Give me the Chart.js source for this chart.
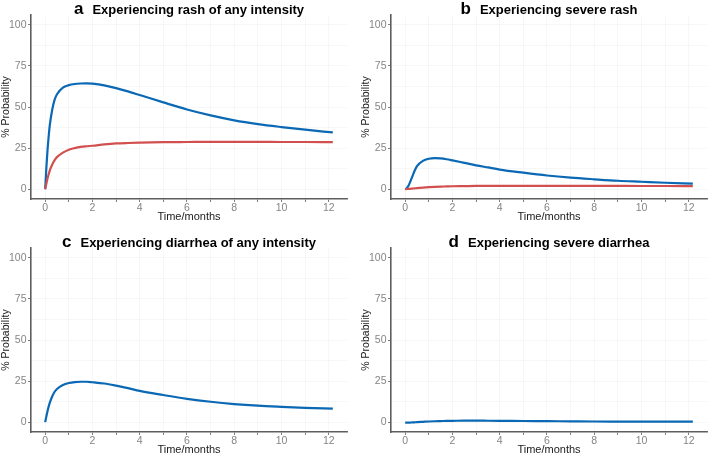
<!DOCTYPE html>
<html>
<head>
<meta charset="utf-8">
<script src="https://cdn.jsdelivr.net/npm/chart.js@4/dist/chart.umd.min.js"></script>
<style>
  html, body { margin: 0; padding: 0; background: #fff; }
  body { width: 709px; height: 455px; position: relative; overflow: hidden; }
  .panel { position: absolute; width: 349px; height: 224px; }
  #pa { left: 0; top: 0; }
  #pb { left: 360px; top: 0; }
  #pc { left: 0; top: 233px; }
  #pd { left: 360px; top: 233px; }
</style>
</head>
<body>
<div class="panel" id="pa"><canvas id="chartA" width="349" height="224"></canvas></div>
<div class="panel" id="pb"><canvas id="chartB" width="349" height="224"></canvas></div>
<div class="panel" id="pc"><canvas id="chartC" width="349" height="224"></canvas></div>
<div class="panel" id="pd"><canvas id="chartD" width="349" height="224"></canvas></div>
<script>
'use strict';

// data
const months = [0, 0.05, 0.1, 0.15, 0.2, 0.3, 0.4, 0.5, 0.75, 1, 1.25, 1.5, 1.75, 2, 2.5, 3, 3.5, 4, 5, 6, 7, 8, 9, 10, 11, 12.17];

const rashAnyBlue = [0, 13, 24, 32.5, 39.5, 48.5, 54.5, 57.8, 61.8, 63.3, 64, 64.3, 64.4, 64.2, 63.2, 61.5, 59.5, 57.3, 52.8, 48.5, 44.9, 41.9, 39.6, 37.8, 36.2, 34.5];
const rashAnyRed = [0, 3.3, 6.5, 9.2, 11.6, 15, 17.7, 19.5, 22.2, 24, 25, 25.7, 26.1, 26.4, 27.2, 27.8, 28.1, 28.3, 28.6, 28.7, 28.8, 28.8, 28.8, 28.7, 28.7, 28.6];

const rashSevereBlue = [0, 0.4, 1.2, 2.4, 4, 7.6, 11.2, 14, 17.2, 18.5, 18.9, 18.7, 18.2, 17.5, 16, 14.5, 13.2, 11.9, 10, 8.3, 7, 6, 5.1, 4.5, 3.9, 3.4];
const rashSevereRed = [0, 0.05, 0.1, 0.15, 0.2, 0.35, 0.5, 0.65, 0.95, 1.2, 1.4, 1.55, 1.65, 1.75, 1.85, 1.95, 2, 2, 2, 2, 2, 2, 1.95, 1.9, 1.9, 1.8];

const diarrheaAnyBlue = [0, 3.5, 6.8, 9.6, 12, 15.8, 18.5, 20.2, 22.6, 23.8, 24.4, 24.6, 24.6, 24.3, 23.5, 22.2, 20.7, 19, 16.5, 14.2, 12.4, 11, 10, 9.3, 8.7, 8.2];
const diarrheaSevereBlue = [-0.3, -0.3, -0.3, -0.3, -0.25, -0.2, -0.1, 0, 0.2, 0.4, 0.55, 0.65, 0.75, 0.8, 0.9, 0.9, 0.85, 0.8, 0.7, 0.6, 0.5, 0.4, 0.35, 0.3, 0.3, 0.3];

const xTicks = [0, 1, 2, 3, 4, 5, 6, 7, 8, 9, 10, 11, 12];
const yTicks = [0, 12.5, 25, 37.5, 50, 62.5, 75, 87.5, 100];

const panelLetters = ['a', 'b', 'c', 'd'];
const panelTitles = [
  'Experiencing rash of any intensity',
  'Experiencing severe rash',
  'Experiencing diarrhea of any intensity',
  'Experiencing severe diarrhea'
];

const blue = '#0a68b4';
const red = '#d24f4f';
const axisGrey = '#5e5e5e';
const fontFamily = 'Arial, "Liberation Sans", Helvetica, sans-serif';

function toPoints(values) {
  return values.map((v, i) => ({ x: months[i], y: v }));
}

// title with a bigger panel letter, centred over the plot
const panelTitlePlugin = {
  id: 'panelTitle',
  afterDraw(chart, args, opts) {
    const ctx = chart.ctx;
    const area = chart.chartArea;
    ctx.save();
    ctx.fillStyle = '#000';
    ctx.textBaseline = 'alphabetic';
    ctx.font = 'bold 17px ' + fontFamily;
    const lw = ctx.measureText(opts.letter).width;
    ctx.font = 'bold 13px ' + fontFamily;
    const tw = ctx.measureText(opts.text).width;
    const gap = 9;
    let x = (area.left + area.right) / 2 - (lw + gap + tw) / 2;
    ctx.font = 'bold 17px ' + fontFamily;
    ctx.fillText(opts.letter, x, 14);
    ctx.font = 'bold 13px ' + fontFamily;
    ctx.fillText(opts.text, x + lw + gap, 14);
    ctx.restore();
  }
};

function makeChart(canvasId, index, series) {
  const datasets = series.map(s => ({
    data: toPoints(s.values),
    borderColor: s.color,
    borderWidth: 2.2,
    pointRadius: 0,
    fill: false,
    cubicInterpolationMode: 'monotone'
  }));

  new Chart(document.getElementById(canvasId), {
    type: 'line',
    data: { datasets: datasets },
    plugins: [panelTitlePlugin],
    options: {
      responsive: false,
      animation: false,
      events: [],
      layout: { padding: { top: 15, right: 2, left: 0, bottom: 0 } },
      plugins: {
        legend: { display: false },
        tooltip: { enabled: false },
        panelTitle: { letter: panelLetters[index], text: panelTitles[index] }
      },
      scales: {
        x: {
          type: 'linear',
          min: -0.6,
          max: 12.77,
          afterBuildTicks: scale => { scale.ticks = xTicks.map(v => ({ value: v })); },
          afterFit: scale => { scale.height = 25; },
          border: { display: true, color: axisGrey, width: 1.6 },
          grid: {
            color: 'rgba(0,0,0,0.045)',
            lineWidth: 0.8,
            tickColor: axisGrey,
            tickLength: 3,
            drawTicks: true
          },
          ticks: {
            autoSkip: false,
            maxRotation: 0,
            padding: 0,
            color: '#858585',
            font: { family: fontFamily, size: 10.5 },
            callback: v => (v % 2 === 0 ? String(v) : '')
          },
          title: {
            display: true,
            text: 'Time/months',
            color: '#1a1a1a',
            padding: { top: 0, bottom: 0 },
            font: { family: fontFamily, size: 11 }
          }
        },
        y: {
          type: 'linear',
          min: -6,
          max: 106,
          afterBuildTicks: scale => { scale.ticks = yTicks.map(v => ({ value: v })); },
          afterFit: scale => { scale.width = 31; },
          border: { display: true, color: axisGrey, width: 1.6 },
          grid: {
            color: 'rgba(0,0,0,0.045)',
            lineWidth: 0.8,
            tickColor: c => (c.tick && c.tick.value % 25 === 0 ? axisGrey : 'rgba(0,0,0,0)'),
            tickLength: 3,
            drawTicks: true
          },
          ticks: {
            autoSkip: false,
            padding: 1.5,
            color: '#858585',
            font: { family: fontFamily, size: 10.5 },
            callback: v => (v % 25 === 0 ? String(v) : '')
          },
          title: {
            display: true,
            text: '% Probability',
            color: '#1a1a1a',
            padding: { top: 0, bottom: 0 },
            font: { family: fontFamily, size: 10.5 }
          }
        }
      }
    }
  });
}

makeChart('chartA', 0, [
  { values: rashAnyRed, color: red },
  { values: rashAnyBlue, color: blue }
]);
makeChart('chartB', 1, [
  { values: rashSevereRed, color: red },
  { values: rashSevereBlue, color: blue }
]);
makeChart('chartC', 2, [
  { values: diarrheaAnyBlue, color: blue }
]);
makeChart('chartD', 3, [
  { values: diarrheaSevereBlue, color: blue }
]);
</script>
</body>
</html>
